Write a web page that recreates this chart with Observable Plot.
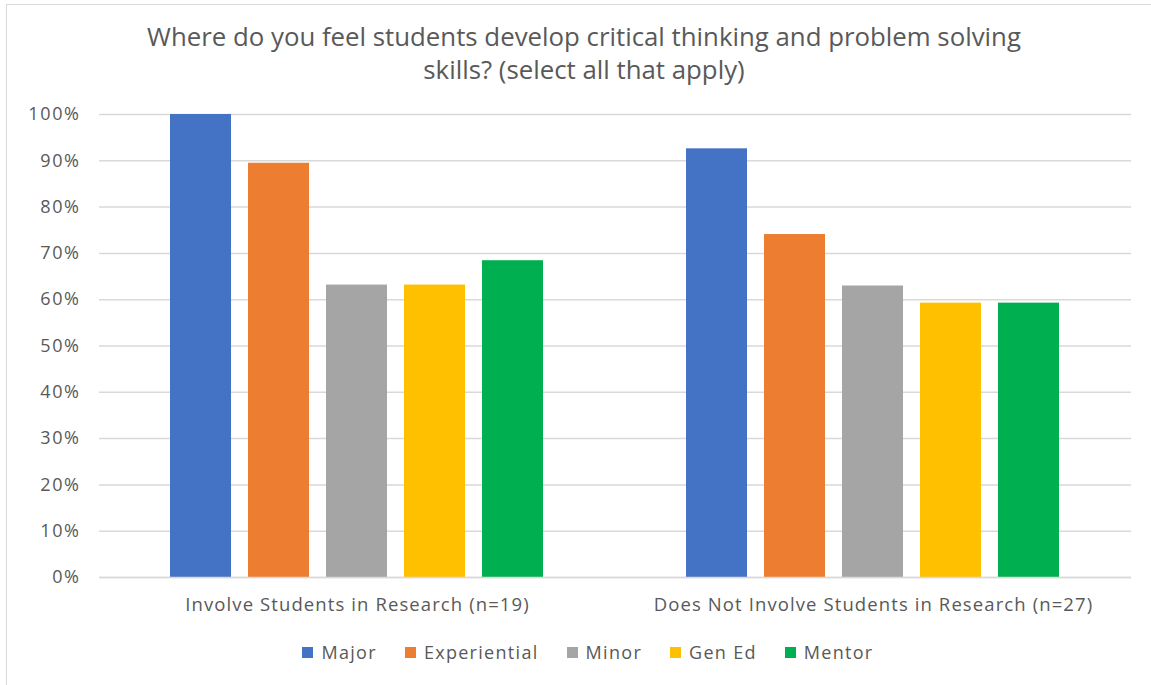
<!DOCTYPE html>
<html>
<head>
<meta charset="utf-8">
<script src="https://cdn.jsdelivr.net/npm/d3@7"></script>
<script src="https://cdn.jsdelivr.net/npm/@observablehq/plot@0.6"></script>
<style>
  html, body { margin: 0; padding: 0; background: #fff; }
  #frame {
    position: relative; width: 1151px; height: 685px; overflow: hidden;
    font-family: "Open Sans", sans-serif; color: #595959;
  }
  #border {
    position: absolute; left: 6px; top: 4px; width: 1160px; height: 700px;
    border: 1px solid #d9d9d9; box-sizing: border-box;
  }
  #title {
    position: absolute; left: 0; top: 20px; width: 1168px; text-align: center;
    font-size: 25.8px; line-height: 33px; color: #595959;
  }
  #chart { position: absolute; left: 0; top: 90px; }
  #chart [aria-label="y-axis tick label"] text { letter-spacing: 1.6px; }
  #chart [aria-label="fx-axis tick label"] text { letter-spacing: 1.1px; }
  #legend {
    position: absolute; top: 640px; left: 0; width: 1176px;
    display: flex; justify-content: center; gap: 28px;
    font-size: 18px; letter-spacing: 1.3px; color: #595959;
  }
  #legend .item { display: flex; align-items: center; }
  #legend .sw { width: 11px; height: 11px; margin-right: 8px; }
</style>
</head>
<body>
<div id="frame">
  <div id="border"></div>
  <div id="title">Where do you feel students develop critical thinking and problem solving<br>skills? (select all that apply)</div>
  <div id="chart"></div>
  <div id="legend"></div>
</div>
<script>
// Respondent groups (x facets) and the places students build these skills (series)
const groups = ["Involve Students in Research (n=19)", "Does Not Involve Students in Research (n=27)"];
const series = ["Major", "Experiential", "Minor", "Gen Ed", "Mentor"];
const colors = ["#4472C4", "#ED7D31", "#A5A5A5", "#FFC000", "#00B050"];

// Share of respondents selecting each option, per group
const involveValues = [1.0, 0.8947, 0.6316, 0.6316, 0.6842];
const notInvolveValues = [0.9259, 0.7407, 0.6296, 0.5926, 0.5926];

// Y-axis ticks
const yTicks = [0, 0.1, 0.2, 0.3, 0.4, 0.5, 0.6, 0.7, 0.8, 0.9, 1.0];

const data = [
  ...series.map((s, i) => ({group: groups[0], series: s, value: involveValues[i]})),
  ...series.map((s, i) => ({group: groups[1], series: s, value: notInvolveValues[i]}))
];

const chart = Plot.plot({
  width: 1151,
  height: 532,
  marginTop: 24,
  marginBottom: 45,
  marginLeft: 98,
  marginRight: 20,
  style: {fontFamily: "Open Sans, sans-serif", fontSize: "18px", color: "#595959", background: "transparent"},
  fx: {domain: groups, padding: 0, label: null},
  x: {domain: series, axis: null, paddingInner: 0.215, paddingOuter: 0.877},
  y: {domain: [0, 1], label: null},
  color: {domain: series, range: colors},
  marks: [
    Plot.gridY({ticks: yTicks, stroke: "#d9d9d9", strokeOpacity: 1, strokeWidth: 1.5}),
    Plot.axisY({ticks: yTicks, tickFormat: d3.format(".0%"), tickSize: 0, tickPadding: 19, fill: "#595959", fontSize: 18}),
    Plot.axisFx({anchor: "bottom", tickSize: 0, tickPadding: 20, fill: "#595959", fontSize: 18.5, label: null}),
    Plot.barY(data, {fx: "group", x: "series", y: "value", fill: "series"}),
    Plot.ruleY([0], {stroke: "#d9d9d9", strokeWidth: 1.5})
  ]
});
document.getElementById("chart").appendChild(chart);

// Legend of swatches below the chart
const legend = d3.select("#legend");
series.forEach((s, i) => {
  const item = legend.append("div").attr("class", "item");
  item.append("div").attr("class", "sw").style("background", colors[i]);
  item.append("span").text(s);
});
</script>
</body>
</html>
